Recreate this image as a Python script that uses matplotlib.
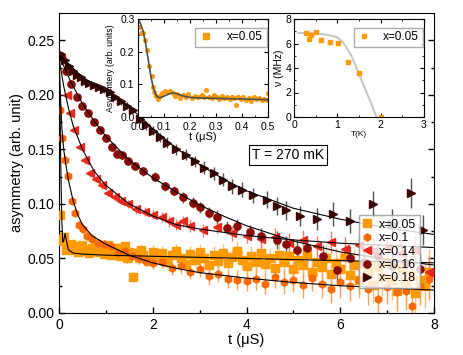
import matplotlib
matplotlib.use('Agg')
import matplotlib.pyplot as plt
from matplotlib.lines import Line2D

plt.rcParams['font.family'] = ['Liberation Sans', 'DejaVu Sans']

# ---------------- main panel data: (t [us], asymmetry, error) ----------------
labels = ['x=0.05', 'x=0.1', 'x=0.14', 'x=0.16', 'x=0.18']

s005 = [(0.02,0.090,.003),(0.05,0.068,.003),(0.08,0.066,.003),(0.11,0.070,.003),(0.14,0.058,.003),
        (0.17,0.062,.003),(0.20,0.060,.003),(0.25,0.063,.003),(0.30,0.058,.003),(0.35,0.061,.003),
        (0.40,0.056,.003),(0.45,0.060,.003),(0.50,0.062,.003),(0.55,0.057,.003),(0.60,0.059,.003),
        (0.65,0.055,.003),(0.70,0.060,.003),(0.75,0.058,.004),(0.80,0.063,.004),(0.85,0.056,.004),
        (0.90,0.060,.004),(0.95,0.054,.004),(1.00,0.058,.004),(1.05,0.062,.004),(1.10,0.053,.004),
        (1.15,0.058,.004),(1.20,0.055,.004),(1.25,0.060,.004),(1.30,0.052,.004),(1.35,0.057,.005),
        (1.40,0.061,.005),(1.45,0.050,.005),(1.50,0.056,.005),(1.58,0.033,.005),(1.65,0.055,.005),
        (1.70,0.050,.005),(1.75,0.058,.005),(1.80,0.053,.005),(1.90,0.048,.005),(2.00,0.056,.006),
        (2.10,0.051,.006),(2.20,0.055,.006),(2.30,0.047,.006),(2.40,0.053,.006),(2.50,0.057,.006),
        (2.60,0.050,.006),(2.70,0.045,.007),(2.80,0.054,.007),(2.90,0.049,.007),(3.00,0.056,.007),
        (3.10,0.050,.007),(3.20,0.044,.007),(3.30,0.053,.008),(3.40,0.048,.008),(3.50,0.055,.008),
        (3.60,0.046,.008),(3.70,0.051,.008),(3.80,0.057,.009),(3.90,0.049,.009),(4.00,0.043,.009),
        (4.10,0.052,.009),(4.20,0.047,.010),(4.30,0.055,.010),(4.40,0.045,.010),(4.50,0.050,.010),
        (4.60,0.041,.011),(4.70,0.053,.011),(4.80,0.047,.011),(4.90,0.052,.011),(5.00,0.040,.012),
        (5.10,0.049,.012),(5.20,0.044,.012),(5.30,0.054,.012),(5.40,0.038,.013),(5.50,0.047,.013),
        (5.60,0.042,.013),(5.70,0.050,.013),(5.80,0.036,.014),(5.90,0.046,.014),(6.00,0.040,.014),
        (6.10,0.052,.015),(6.20,0.035,.015),(6.30,0.044,.015),(6.40,0.030,.016),(6.50,0.045,.016),
        (6.60,0.038,.016),(6.70,0.026,.017),(6.80,0.042,.017),(6.90,0.033,.017),(7.00,0.047,.018),
        (7.10,0.030,.018),(7.20,0.020,.018),(7.30,0.040,.019),(7.40,0.028,.019),(7.50,0.035,.019),
        (7.60,0.018,.020),(7.70,0.030,.020),(7.80,0.025,.020),(7.90,0.038,.021)]

s010 = [(0.02,0.186,.003),(0.07,0.160,.003),(0.13,0.140,.003),(0.20,0.126,.003),(0.27,0.103,.003),
        (0.34,0.092,.003),(0.43,0.081,.003),(0.52,0.077,.003),(0.60,0.071,.003),(0.70,0.068,.004),
        (0.83,0.064,.004),(0.95,0.063,.004),(1.10,0.061,.004),(1.25,0.055,.004),(1.40,0.057,.005),
        (1.55,0.052,.005),(1.70,0.050,.005),(1.85,0.048,.005),(2.00,0.046,.006),(2.20,0.047,.006),
        (2.40,0.041,.006),(2.60,0.043,.007),(2.80,0.038,.007),(3.00,0.040,.007),(3.20,0.034,.008),
        (3.40,0.036,.008),(3.60,0.031,.008),(3.80,0.030,.009),(4.00,0.029,.009),(4.20,0.031,.010),
        (4.40,0.027,.010),(4.60,0.033,.010),(4.80,0.028,.011),(5.00,0.030,.011),(5.20,0.026,.012),
        (5.40,0.032,.012),(5.60,0.027,.013),(5.80,0.022,.013),(6.00,0.028,.014),(6.20,0.025,.014),
        (6.40,0.030,.015),(6.60,0.022,.015),(6.80,0.013,.016),(7.00,0.024,.016),(7.20,0.019,.017),
        (7.40,0.020,.017),(7.52,0.006,.018),(7.70,0.025,.018),(7.90,0.031,.019)]

s014 = [(0.05,0.233,.002),(0.16,0.200,.002),(0.23,0.183,.002),(0.33,0.168,.002),(0.45,0.152,.002),
        (0.55,0.140,.003),(0.66,0.128,.003),(0.78,0.123,.003),(0.91,0.117,.003),(1.05,0.110,.003),
        (1.19,0.106,.003),(1.33,0.103,.003),(1.47,0.100,.004),(1.65,0.095,.004),(1.83,0.093,.004),
        (2.00,0.090,.004),(2.20,0.088,.005),(2.35,0.084,.005),(2.50,0.081,.005),(2.65,0.084,.005),
        (2.80,0.080,.006),(3.07,0.076,.006),(3.36,0.079,.006),(3.70,0.073,.007),(4.00,0.071,.007),
        (4.30,0.068,.008),(4.60,0.070,.008),(4.90,0.064,.009),(5.20,0.067,.009),(5.50,0.061,.010),
        (5.80,0.065,.010),(6.10,0.059,.011),(6.40,0.062,.011),(6.70,0.057,.012),(7.00,0.060,.012),
        (7.30,0.055,.013),(7.60,0.058,.013),(7.90,0.038,.014)]

s016 = [(0.05,0.236,.002),(0.15,0.222,.002),(0.25,0.210,.002),(0.38,0.198,.002),(0.50,0.190,.002),
        (0.62,0.183,.002),(0.75,0.175,.002),(0.87,0.168,.003),(1.00,0.160,.003),(1.12,0.152,.003),
        (1.23,0.146,.003),(1.34,0.145,.003),(1.48,0.139,.003),(1.62,0.135,.003),(1.80,0.130,.004),
        (2.05,0.125,.004),(2.26,0.116,.004),(2.45,0.112,.004),(2.65,0.106,.005),(2.85,0.101,.005),
        (3.00,0.097,.005),(3.20,0.092,.005),(3.36,0.088,.006),(3.58,0.078,.006),(3.80,0.080,.006),
        (4.07,0.074,.007),(4.30,0.071,.007),(4.64,0.067,.008),(4.85,0.063,.008),(5.07,0.058,.009),
        (5.30,0.060,.009),(5.63,0.052,.010),(5.92,0.039,.011),(6.20,0.050,.011),(6.50,0.047,.012),
        (6.80,0.052,.012),(7.10,0.043,.013),(7.40,0.046,.013),(7.70,0.040,.014)]

s018 = [(0.05,0.237,.002),(0.13,0.232,.002),(0.22,0.226,.002),(0.30,0.222,.002),(0.38,0.218,.002),
        (0.47,0.216,.002),(0.55,0.213,.002),(0.65,0.211,.002),(0.75,0.209,.003),(0.85,0.207,.003),
        (0.95,0.205,.003),(1.09,0.203,.003),(1.20,0.198,.003),(1.33,0.194,.003),(1.45,0.190,.003),
        (1.58,0.186,.003),(1.72,0.178,.004),(1.85,0.172,.004),(2.00,0.167,.004),(2.15,0.161,.004),
        (2.30,0.156,.005),(2.50,0.150,.005),(2.70,0.145,.005),(2.90,0.139,.005),(3.10,0.133,.006),
        (3.30,0.128,.006),(3.50,0.122,.006),(3.70,0.116,.007),(3.90,0.113,.007),(4.14,0.108,.007),
        (4.43,0.104,.008),(4.65,0.098,.008),(4.85,0.094,.009),(5.14,0.089,.009),(5.50,0.086,.010),
        (5.85,0.091,.011),(6.20,0.084,.011),(6.70,0.100,.012),(7.10,0.082,.013),(7.50,0.110,.014),
        (7.76,0.076,.014)]

# fitted curves: (t, asymmetry)
fit005 = [(0,0.235),(0.02,0.19),(0.04,0.13),(0.06,0.085),(0.08,0.065),(0.10,0.066),(0.13,0.073),
          (0.16,0.066),(0.20,0.058),(0.30,0.055),(0.50,0.054),(1,0.053),(2,0.052),(3,0.051),
          (4,0.050),(5,0.049),(6,0.048),(7,0.047),(8,0.046)]
fit010 = [(0,0.235),(0.03,0.20),(0.06,0.17),(0.10,0.150),(0.15,0.135),(0.20,0.122),(0.30,0.103),
          (0.40,0.090),(0.50,0.081),(0.70,0.071),(1,0.063),(1.5,0.053),(2,0.046),(2.5,0.041),
          (3,0.037),(4,0.032),(5,0.028),(6,0.025),(7,0.023),(8,0.021)]
fit014 = [(0,0.233),(0.1,0.208),(0.2,0.188),(0.3,0.172),(0.5,0.150),(0.75,0.130),(1,0.117),
          (1.5,0.100),(2,0.089),(2.5,0.081),(3,0.077),(4,0.071),(5,0.067),(6,0.064),(7,0.062),(8,0.060)]
fit016 = [(0,0.236),(0.25,0.212),(0.5,0.192),(0.75,0.176),(1,0.162),(1.5,0.140),(2,0.124),
          (2.5,0.111),(3,0.099),(3.5,0.089),(4,0.080),(5,0.066),(6,0.056),(7,0.049),(8,0.044)]
fit018 = [(0,0.237),(0.5,0.216),(1,0.203),(1.5,0.189),(2,0.169),(2.5,0.151),(3,0.136),
          (3.5,0.123),(4,0.112),(5,0.096),(6,0.086),(7,0.078),(8,0.072)]

# ---------------- inset 1: x=0.05 short times ----------------
ins1 = [(0.005,0.277),(0.010,0.258),(0.020,0.256),(0.027,0.236),(0.033,0.205),(0.044,0.155),
        (0.053,0.124),(0.059,0.092),(0.063,0.078),(0.069,0.065),(0.078,0.056),(0.085,0.063),
        (0.094,0.073),(0.104,0.081),(0.113,0.078),(0.123,0.081),(0.133,0.075),(0.142,0.063),
        (0.151,0.071),(0.162,0.058),(0.174,0.068),(0.185,0.061),(0.194,0.070),(0.206,0.058),
        (0.219,0.065),(0.232,0.061),(0.245,0.066),(0.255,0.060),(0.262,0.083),(0.272,0.062),
        (0.283,0.057),(0.292,0.066),(0.302,0.060),(0.312,0.055),(0.322,0.064),(0.332,0.058),
        (0.342,0.062),(0.352,0.054),(0.362,0.060),(0.370,0.057),(0.377,0.036),(0.385,0.062),
        (0.395,0.055),(0.405,0.060),(0.415,0.053),(0.425,0.058),(0.435,0.050),(0.445,0.061),
        (0.455,0.054),(0.465,0.057),(0.475,0.052),(0.485,0.056),(0.495,0.052),(0.500,0.072)]
ins1_fit = [(0,0.300),(0.01,0.285),(0.02,0.262),(0.03,0.222),(0.04,0.172),(0.05,0.122),(0.06,0.086),
            (0.07,0.066),(0.08,0.059),(0.09,0.060),(0.10,0.064),(0.12,0.071),(0.135,0.074),
            (0.15,0.071),(0.17,0.065),(0.20,0.060),(0.25,0.058),(0.30,0.057),(0.40,0.055),(0.50,0.053)]

# ---------------- inset 2: frequency vs temperature ----------------
ins2_T  = [0.28, 0.35, 0.40, 0.51, 0.62, 0.82, 1.02, 1.25, 1.51, 2.00]
ins2_nu = [6.83, 6.37, 6.69, 6.96, 6.29, 6.15, 6.02, 4.47, 3.58, 0.00]
ins2_err = [0.15, 0.15, 0.12, 0.12, 0.15, 0.1, 0.1, 0.1, 0.1, 0.05]
ins2_fit = [(0.10,6.85),(0.30,6.85),(0.50,6.83),(0.70,6.75),(0.85,6.65),(1.00,6.50),(1.10,6.20),
            (1.20,5.75),(1.30,5.15),(1.40,4.40),(1.50,3.50),(1.60,2.65),(1.70,1.80),(1.80,0.95),(1.90,0.00)]

# ---------------- styles ----------------
colors = ['#FF9A00', '#FF6A00', '#E8281A', '#8B0A06', '#3A0500']
ecols = ['#FFC27A', '#FFA05A', '#F08070', '#606060', '#505050']
markers = ['s', 'h', '<', 'o', '>']
series = [s005, s010, s014, s016, s018]
fits = [fit005, fit010, fit014, fit016, fit018]

fig = plt.figure(figsize=(4.63, 3.55), dpi=100)
ax = fig.add_axes([59/463, 1-313/355, 375/463, 300/355])

handles = [None]*5
for i in [4, 3, 2, 1, 0]:
    d = series[i]
    t = [p[0] for p in d]; y = [p[1] for p in d]; e = [p[2] for p in d]
    ax.errorbar(t, y, yerr=e, fmt='none', ecolor=ecols[i], elinewidth=1.0, zorder=2+i*0.1)
    h, = ax.plot(t, y, ls='none', marker=markers[i], color=colors[i], ms=5.2,
                 mec=colors[i], zorder=3+i*0.1)
    handles[i] = h
for i in range(5):
    f = fits[i]
    ax.plot([p[0] for p in f], [p[1] for p in f], color='black', lw=0.8, zorder=5)

ax.set_xlim(0, 8)
ax.set_ylim(0, 0.275)
ax.set_xticks([0, 2, 4, 6, 8])
ax.set_xticks([1, 3, 5, 7], minor=True)
ax.set_yticks([0, 0.05, 0.10, 0.15, 0.20, 0.25])
ax.set_yticklabels(['0.00', '0.05', '0.10', '0.15', '0.20', '0.25'])
ax.set_yticks([0.025, 0.075, 0.125, 0.175, 0.225], minor=True)
ax.tick_params(which='both', direction='in', top=False, right=True, labelsize=10)
ax.tick_params(which='major', length=4, width=1)
ax.tick_params(which='minor', length=2.5, width=1)
ax.set_xlabel('t (μS)', fontsize=10.5, labelpad=1)
ax.set_ylabel('asymmetry (arb. unit)', fontsize=10.5, labelpad=2)
ax.text(4.88, 0.145, 'T = 270 mK', fontsize=10, ha='center', va='center',
        bbox=dict(boxstyle='square,pad=0.2', fc='white', ec='black', lw=0.8), zorder=6)
leg = ax.legend(handles, labels, loc='lower right', bbox_to_anchor=(0.963, 0.083),
                fontsize=8.8, frameon=True, fancybox=False, edgecolor='#999999',
                handlelength=0.8, handletextpad=0.6, borderpad=0.3, labelspacing=0.12,
                borderaxespad=0)
leg.set_zorder(10)

# ---------------- inset 1 ----------------
a1 = fig.add_axes([138/463, 1-117/355, 130/463, 98/355])
a1.errorbar([p[0] for p in ins1], [p[1] for p in ins1], yerr=0.004, fmt='none',
            ecolor='#FFC27A', elinewidth=0.8)
a1.plot([p[0] for p in ins1], [p[1] for p in ins1], ls='none', marker='o', ms=2.6,
        color='#FF9A00')
a1.plot([p[0] for p in ins1_fit], [p[1] for p in ins1_fit], color='#505050', lw=1.2)
a1.set_xlim(0, 0.5); a1.set_ylim(0, 0.3)
a1.set_xticks([0, 0.1, 0.2, 0.3, 0.4, 0.5])
a1.set_xticklabels(['0.0', '0.1', '0.2', '0.3', '0.4', '0.5'])
a1.set_xticks([0.05, 0.15, 0.25, 0.35, 0.45], minor=True)
a1.set_yticks([0, 0.1, 0.2, 0.3]); a1.set_yticklabels(['0.0', '0.1', '0.2', '0.3'])
a1.set_yticks([0.05, 0.15, 0.25], minor=True)
a1.tick_params(which='both', direction='in', top=True, right=True, labelsize=7.5)
a1.tick_params(axis='x', pad=3.5)
a1.tick_params(axis='y', pad=2.5)
a1.tick_params(which='major', length=3); a1.tick_params(which='minor', length=1.5)
a1.set_xlabel('t (μS)', fontsize=8, labelpad=0)
a1.set_ylabel('Asymmtery (arb. units)', fontsize=6.2)
a1.yaxis.set_label_coords(-0.18, 0.5)
h1 = Line2D([], [], ls='none', marker='s', ms=5, color='#FF9A00')
a1.legend([h1], ['x=0.05'], loc='upper right', fontsize=8.5, fancybox=False,
          edgecolor='#999999', handlelength=1.2, handletextpad=1.2, borderpad=0.3,
          bbox_to_anchor=(0.99, 0.91), borderaxespad=0)

# ---------------- inset 2 ----------------
a2 = fig.add_axes([294/463, 1-117/355, 130/463, 98/355])
a2.plot([p[0] for p in ins2_fit], [p[1] for p in ins2_fit], color='#C8C8C8', lw=1.5)
a2.errorbar(ins2_T, ins2_nu, yerr=ins2_err, fmt='none', ecolor='#FFC27A', elinewidth=0.8)
a2.plot(ins2_T, ins2_nu, ls='none', marker='s', ms=3, color='#FF9A00')
a2.set_xlim(0, 3); a2.set_ylim(0, 8)
a2.set_xticks([0, 1, 2, 3]); a2.set_yticks([0, 2, 4, 6, 8])
a2.set_xticks([0.5, 1.5, 2.5], minor=True); a2.set_yticks([1, 3, 5, 7], minor=True)
a2.tick_params(which='both', direction='in', top=True, right=True, labelsize=7.5, pad=2)
a2.tick_params(which='major', length=3); a2.tick_params(which='minor', length=1.5)
a2.set_xlabel('T(K)', fontsize=6, labelpad=1)
a2.set_ylabel('ν (MHz)', fontsize=7.5, labelpad=1)
h2 = Line2D([], [], ls='none', marker='s', ms=3, color='#FF9A00')
a2.legend([h2], ['x=0.05'], loc='upper right', fontsize=8.5, fancybox=False,
          edgecolor='#999999', handlelength=1.2, handletextpad=1.0, borderpad=0.3,
          bbox_to_anchor=(0.99, 0.91), borderaxespad=0)

fig.savefig('out.png', dpi=100)
